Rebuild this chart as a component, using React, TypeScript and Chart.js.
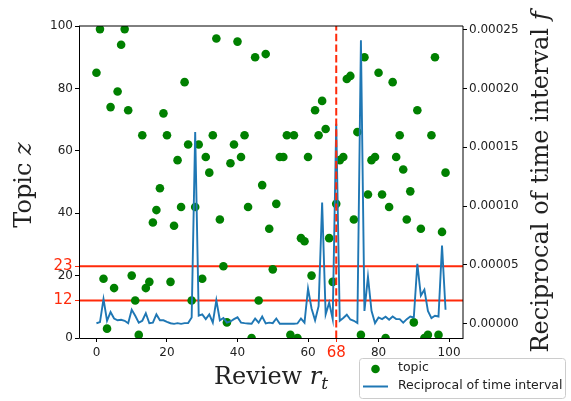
import React, { useEffect, useRef } from "react";
import { Chart, registerables } from "chart.js";

Chart.register(...registerables);

// ---------- data ----------
const topicValues = [
  85, 99, 19, 3, 74, 16, 79, 94, 99, 73,
  20, 12, 1, 65, 16, 18, 37, 41, 48, 72,
  65, 18, 36, 57, 42, 82, 62, 12, 42, 62,
  19, 58, 53, 65, 96, 38, 23, 5, 56, 62,
  95, 58, 65, 42, 0, 90, 12, 49, 91, 35,
  22, 43, 58, 58, 65, 1, 65, 0, 32, 31,
  58, 20, 73, 65, 76, 67, 32, 18, 43, 57,
  58, 83, 84, 38, 66, 1, 90, 46, 57, 58,
  85, 46, 0, 42, 82, 58, 65, 54, 38, 47,
  5, 73, 35, 0, 1, 65, 90, 1, 34, 53,
];

// reciprocal of time interval, in units of 1e-5
const recipE5 = [
  0.05, 0.15, 2.1, 0.26, 1.0, 0.45, 0.3, 0.34, 0.26, 0.05,
  1.2, 0.68, 0.1, 0.26, 0.9, 0.05, 0.1, 0.8, 0.3, 0.3,
  0.17, 0.05, 0.0, 0.06, 0.0, 0.06, 0.06, 0.54, 16.3, 0.7,
  0.8, 0.4, 0.8, 0.1, 2.0, 0.3, 0.5, 0.1, 0.2, 0.4,
  0.55, 0.1, 0.06, 0.03, 0.0, 0.45, 0.1, 0.62, 0.03, 0.1,
  0.06, 0.45, 0.0, 0.0, 0.0, 0.0, 0.0, 0.03, 0.45, 0.1,
  3.0, 1.3, 0.3, 1.5, 10.3, 0.8, 1.8, 0.4, 17.0, 0.26,
  0.49, 0.77, 0.37, 0.26, 0.06, 24.1, 1.1, 4.0, 1.1, 0.06,
  0.54, 0.4, 0.6, 0.34, 0.62, 0.4, 0.4, 0.1, 0.4, 0.62,
  0.54, 5.1, 2.4, 2.9, 1.1, 0.49, 0.68, 0.62, 6.65, 1.2,
];
const RECIP_UNIT = 1e-5;

const xTickValues = [0, 20, 40, 60, 80, 100];
const topicTickValues = [0, 20, 40, 60, 80, 100];
const recipTickValues = [0, 0.00005, 0.0001, 0.00015, 0.0002, 0.00025];
const thresholds = [23, 12];
const markedReview = 68;

const legendLabels = ["topic", "Reciprocal of time interval"];

// ---------- styles ----------
const SANS = "'DejaVu Sans', sans-serif";
const SERIF = "'DejaVu Serif', serif";
const RED = "#ff2a0a";
const GREEN = "#008000";
const BLUE = "#1f77b4";
const TXT = "#222222";

type Part = { text: string; font: string; dy?: number };

function drawParts(ctx: CanvasRenderingContext2D, parts: Part[], cx: number, baseY: number) {
  let total = 0;
  const widths = parts.map((p) => {
    ctx.font = p.font;
    const w = ctx.measureText(p.text).width;
    total += w;
    return w;
  });
  let x = cx - total / 2;
  ctx.textAlign = "left";
  ctx.textBaseline = "alphabetic";
  parts.forEach((p, i) => {
    ctx.font = p.font;
    ctx.fillText(p.text, x, baseY + (p.dy || 0));
    x += widths[i];
  });
}

const decorPlugin = {
  id: "decor",
  beforeDatasetsDraw(chart: any) {
    const { ctx, chartArea, scales } = chart;
    ctx.save();
    ctx.strokeStyle = RED;
    ctx.lineWidth = 2;
    thresholds.forEach((t) => {
      const py = scales.y.getPixelForValue(t);
      ctx.beginPath();
      ctx.moveTo(chartArea.left, py);
      ctx.lineTo(chartArea.right, py);
      ctx.stroke();
    });
    ctx.restore();
  },
  afterDatasetsDraw(chart: any) {
    const { ctx, chartArea, scales } = chart;
    const px = scales.x.getPixelForValue(markedReview);
    ctx.save();
    ctx.strokeStyle = RED;
    ctx.lineWidth = 2;
    ctx.setLineDash([7.4, 3.2]);
    ctx.beginPath();
    ctx.moveTo(px, chartArea.bottom);
    ctx.lineTo(px, chartArea.top);
    ctx.stroke();
    ctx.restore();
  },
  afterDraw(chart: any) {
    const { ctx, chartArea, scales } = chart;
    const { left, right, top, bottom } = chartArea;
    ctx.save();
    // spines
    ctx.strokeStyle = "#000";
    ctx.lineWidth = 1;
    ctx.beginPath();
    ctx.moveTo(left + 0.5, top);
    ctx.lineTo(left + 0.5, bottom + 0.5);
    ctx.lineTo(right, bottom + 0.5);
    ctx.stroke();
    ctx.beginPath();
    ctx.moveTo(left, top);
    ctx.lineTo(right, top);
    ctx.lineTo(right, bottom + 1);
    ctx.stroke();

    // red tick labels
    ctx.fillStyle = RED;
    ctx.font = `15px ${SANS}`;
    ctx.textAlign = "center";
    ctx.textBaseline = "alphabetic";
    ctx.fillText(String(markedReview), scales.x.getPixelForValue(markedReview), bottom + 18.5);
    ctx.textAlign = "right";
    thresholds.forEach((t) => {
      ctx.fillText(String(t), left - 6.5, scales.y.getPixelForValue(t) + 3.5);
    });

    // axis titles
    ctx.fillStyle = TXT;
    drawParts(
      ctx,
      [
        { text: "Review ", font: `24px ${SERIF}` },
        { text: "r", font: `italic 24px ${SERIF}` },
        { text: "t", font: `italic 17px ${SERIF}`, dy: 5 },
      ],
      (left + right) / 2,
      bottom + 46
    );
    ctx.save();
    ctx.translate(left - 48, (top + bottom) / 2 + 3);
    ctx.rotate(-Math.PI / 2);
    drawParts(
      ctx,
      [
        { text: "Topic ", font: `24px ${SERIF}` },
        { text: "z", font: `italic 24px ${SERIF}` },
      ],
      0,
      0
    );
    ctx.restore();
    ctx.save();
    ctx.translate(right + 85, (top + bottom) / 2);
    ctx.rotate(-Math.PI / 2);
    drawParts(
      ctx,
      [
        { text: "Reciprocal of time interval ", font: `24px ${SERIF}` },
        { text: "f", font: `italic 24px ${SERIF}` },
      ],
      0,
      0
    );
    ctx.restore();

    // legend
    const bx = 359.5, by = 358.5, bw = 206, bh = 40, r = 3;
    ctx.beginPath();
    ctx.moveTo(bx + r, by);
    ctx.lineTo(bx + bw - r, by);
    ctx.arcTo(bx + bw, by, bx + bw, by + r, r);
    ctx.lineTo(bx + bw, by + bh - r);
    ctx.arcTo(bx + bw, by + bh, bx + bw - r, by + bh, r);
    ctx.lineTo(bx + r, by + bh);
    ctx.arcTo(bx, by + bh, bx, by + bh - r, r);
    ctx.lineTo(bx, by + r);
    ctx.arcTo(bx, by, bx + r, by, r);
    ctx.closePath();
    ctx.fillStyle = "rgba(255,255,255,0.8)";
    ctx.fill();
    ctx.strokeStyle = "#cccccc";
    ctx.lineWidth = 1;
    ctx.stroke();

    ctx.fillStyle = GREEN;
    ctx.beginPath();
    ctx.arc(375.5, 369, 4.3, 0, Math.PI * 2);
    ctx.fill();
    ctx.strokeStyle = BLUE;
    ctx.lineWidth = 2;
    ctx.beginPath();
    ctx.moveTo(363, 386.5);
    ctx.lineTo(388, 386.5);
    ctx.stroke();

    ctx.fillStyle = TXT;
    ctx.font = `12.5px ${SANS}`;
    ctx.textAlign = "left";
    ctx.textBaseline = "middle";
    ctx.fillText(legendLabels[0], 398, 368);
    ctx.fillText(legendLabels[1], 398, 386);
    ctx.restore();
  },
};

function rangeWithMargin(vals: number[]) {
  const mn = Math.min(...vals);
  const mx = Math.max(...vals);
  const m = (mx - mn) * 0.05;
  return [mn - m, mx + m];
}

export default function App() {
  const ref = useRef<HTMLCanvasElement | null>(null);

  useEffect(() => {
    if (!ref.current) return;
    const idx = topicValues.map((_, i) => i);
    const recip = recipE5.map((v) => v * RECIP_UNIT);
    const [xMin, xMax] = rangeWithMargin(idx);
    const [rMin, rMax] = rangeWithMargin(recip);

    const tickFont = { family: SANS, size: 12 };

    const chart = new Chart(ref.current, {
      type: "scatter",
      data: {
        datasets: [
          {
            type: "line",
            label: legendLabels[1],
            data: idx.map((i) => ({ x: i, y: recip[i] })),
            yAxisID: "y1",
            borderColor: BLUE,
            borderWidth: 1.9,
            pointRadius: 0,
            tension: 0,
            fill: false,
            order: 0,
            clip: 0,
          } as any,
          {
            type: "scatter",
            label: legendLabels[0],
            data: idx.map((i) => ({ x: i, y: topicValues[i] })),
            yAxisID: "y",
            backgroundColor: GREEN,
            borderColor: GREEN,
            borderWidth: 0,
            pointRadius: 4.3,
            pointHoverRadius: 4.3,
            order: 1,
            clip: 0,
          } as any,
        ],
      },
      options: {
        responsive: false,
        animation: false,
        devicePixelRatio: 1,
        events: [],
        layout: { padding: { top: 26, left: 0, right: 0, bottom: 0 } },
        plugins: { legend: { display: false }, tooltip: { enabled: false } },
        scales: {
          x: {
            type: "linear",
            position: "bottom",
            min: xMin,
            max: xMax,
            afterBuildTicks: (s: any) => {
              s.ticks = [...xTickValues, markedReview].sort((a, b) => a - b).map((v) => ({ value: v }));
            },
            afterFit: (s: any) => {
              s.height = 63;
            },
            ticks: {
              autoSkip: false,
              maxRotation: 0,
              padding: 4,
              color: TXT,
              font: tickFont,
              callback: (v: any) => (v === markedReview ? "" : String(v)),
            },
            grid: {
              display: true,
              drawOnChartArea: false,
              drawTicks: true,
              tickLength: 4,
              tickWidth: 1,
              tickColor: (c: any) => (c.tick && c.tick.value === markedReview ? RED : "#000"),
            },
            border: { display: false },
          },
          y: {
            type: "linear",
            position: "left",
            min: 0,
            max: 100,
            afterBuildTicks: (s: any) => {
              s.ticks = [...topicTickValues, ...thresholds].sort((a, b) => a - b).map((v) => ({ value: v }));
            },
            afterFit: (s: any) => {
              s.width = 79;
            },
            ticks: {
              autoSkip: false,
              padding: 2,
              color: TXT,
              font: tickFont,
              callback: (v: any) => (thresholds.includes(v) ? "" : String(v)),
            },
            grid: {
              display: true,
              drawOnChartArea: false,
              drawTicks: true,
              tickLength: 4,
              tickWidth: 1,
              tickColor: (c: any) => (c.tick && thresholds.includes(c.tick.value) ? RED : "#000"),
            },
            border: { display: false },
          },
          y1: {
            type: "linear",
            position: "right",
            min: rMin,
            max: rMax,
            afterBuildTicks: (s: any) => {
              s.ticks = recipTickValues.map((v) => ({ value: v }));
            },
            afterFit: (s: any) => {
              s.width = 108;
            },
            ticks: {
              autoSkip: false,
              padding: 2,
              color: TXT,
              font: tickFont,
              callback: (v: any) => Number(v).toFixed(5),
            },
            grid: {
              display: true,
              drawOnChartArea: false,
              drawTicks: true,
              tickLength: 4,
              tickWidth: 1,
              tickColor: "#000",
            },
            border: { display: false },
          },
        },
      } as any,
      plugins: [decorPlugin],
    });
    return () => chart.destroy();
  }, []);

  return (
    <div style={{ position: "fixed", left: 0, top: 0, width: 571, height: 401, background: "#fff" }}>
      <canvas ref={ref} width={571} height={401} style={{ width: 571, height: 401, display: "block" }} />
    </div>
  );
}
